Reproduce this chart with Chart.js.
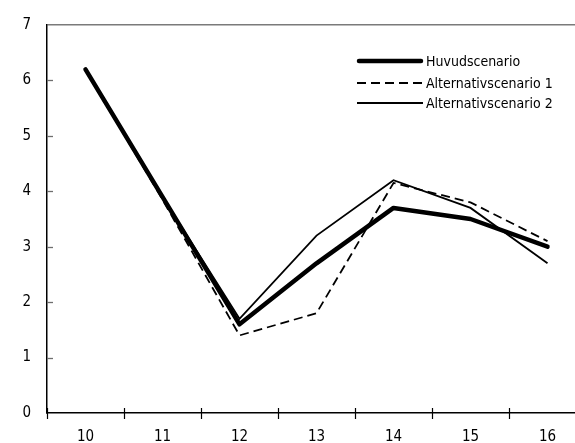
<!DOCTYPE html>
<html>
<head>
<meta charset="utf-8">
<script src="https://cdn.jsdelivr.net/npm/chart.js@4/dist/chart.umd.min.js"></script>
<style>
  html, body { margin: 0; padding: 0; overflow: hidden; background: #fff; }
  #wrap { position: relative; width: 600px; height: 443px; }
</style>
</head>
<body>
<div id="wrap"><canvas id="c"></canvas></div>
<script>
const categories = ['10', '11', '12', '13', '14', '15', '16'];
const huvudscenario = [6.2, 3.9, 1.6, 2.7, 3.7, 3.5, 3.0];
const alternativ1 = [6.2, 3.85, 1.4, 1.8, 4.15, 3.8, 3.1];
const alternativ2 = [6.2, 3.9, 1.7, 3.2, 4.2, 3.7, 2.7];
const yTicks = [0, 1, 2, 3, 4, 5, 6, 7];
const seriesNames = ['Huvudscenario', 'Alternativscenario 1', 'Alternativscenario 2'];

const FONT = '"DejaVu Sans", sans-serif';

const stretchPlugin = {
  id: 'stretch',
  beforeDraw(chart) { try { chart.ctx.fontStretch = 'condensed'; } catch (e) {} }
};

const tickPlugin = {
  id: 'tickMarks',
  afterDraw(chart) {
    const ctx = chart.ctx;
    const xs = chart.scales.x, ys = chart.scales.y;
    const area = chart.chartArea;
    ctx.save();
    ctx.strokeStyle = '#6e6e6e';
    ctx.lineWidth = 1.3;
    yTicks.forEach(v => {
      if (v === 0 || v === 7) return;
      const y = Math.round(ys.getPixelForValue(v)) + 0.5;
      ctx.beginPath();
      ctx.moveTo(area.left, y);
      ctx.lineTo(area.left + 6, y);
      ctx.stroke();
    });
    ctx.strokeStyle = '#000';
    ctx.lineWidth = 1.2;
    for (let i = 0; i < categories.length; i++) {
      const x = Math.round(xs.getPixelForValue(i - 0.5)) + 0.5;
      ctx.beginPath();
      ctx.moveTo(x, area.bottom - 5);
      ctx.lineTo(x, area.bottom + 6);
      ctx.stroke();
    }
    const rows = [61, 83, 103];
    const ds = chart.data.datasets;
    ctx.font = '14px ' + FONT;
    try { ctx.fontStretch = 'condensed'; } catch (e) {}
    ctx.textBaseline = 'middle';
    ctx.textAlign = 'left';
    ctx.fillStyle = '#000';
    ds.forEach((d, i) => {
      ctx.save();
      ctx.strokeStyle = '#000';
      ctx.lineWidth = d.borderWidth;
      ctx.lineCap = d.borderCapStyle || 'butt';
      ctx.setLineDash(d.borderDash || []);
      ctx.beginPath();
      ctx.moveTo(357 + (i === 0 ? 2 : 0), rows[i]);
      ctx.lineTo(423 - (i === 0 ? 2 : 0), rows[i]);
      ctx.stroke();
      ctx.restore();
      ctx.fillText(d.label, 426, rows[i] + 1);
    });
    ctx.restore();
  }
};

new Chart(document.getElementById('c'), {
  type: 'line',
  data: {
    labels: categories,
    datasets: [
      { label: seriesNames[0], data: huvudscenario, borderColor: '#000', borderWidth: 4.5, borderCapStyle: 'round', borderJoinStyle: 'round', pointRadius: 0, tension: 0 },
      { label: seriesNames[1], data: alternativ1, borderColor: '#000', borderWidth: 1.8, borderDash: [9, 5], pointRadius: 0, tension: 0 },
      { label: seriesNames[2], data: alternativ2, borderColor: '#000', borderWidth: 1.8, pointRadius: 0, tension: 0 }
    ]
  },
  options: {
    responsive: true,
    maintainAspectRatio: false,
    animation: false,
    devicePixelRatio: 1,
    layout: { padding: { top: 25, right: 14, left: 0, bottom: 0 } },
    plugins: { legend: { display: false }, tooltip: { enabled: false }, title: { display: false } },
    scales: {
      x: {
        type: 'category',
        offset: true,
        grid: { display: true, offset: true, drawOnChartArea: false, drawTicks: false },
        border: { display: true, color: '#000', width: 1.5 },
        ticks: { color: '#000', padding: 15, font: { family: FONT, size: 15 }, maxRotation: 0 },
        afterFit(s) { s.height = 30; }
      },
      y: {
        min: 0, max: 7,
        afterBuildTicks(s) { s.ticks = yTicks.map(v => ({ value: v })); },
        grid: {
          drawTicks: false,
          color: c => (c.tick && c.tick.value === 7) ? '#7a7a7a' : 'rgba(0,0,0,0)',
          lineWidth: 1.5
        },
        border: { display: true, color: '#000', width: 1.5 },
        ticks: { color: '#000', padding: 16, font: { family: FONT, size: 15 } },
        afterFit(s) { s.width = 47; }
      }
    }
  },
  plugins: [stretchPlugin, tickPlugin]
});
</script>
</body>
</html>
